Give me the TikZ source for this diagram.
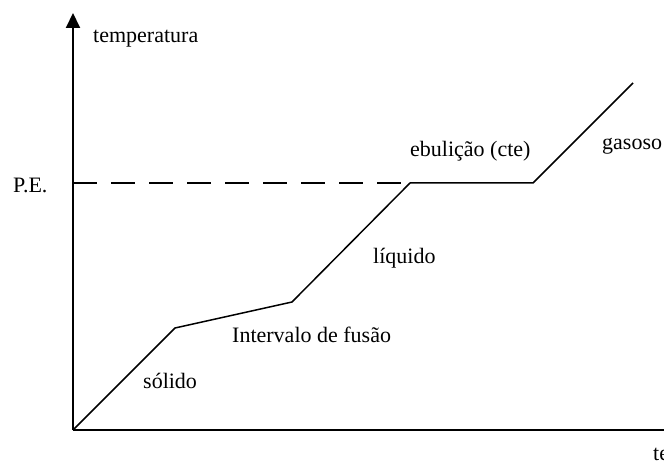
\documentclass[tikz,border=0pt]{standalone}
\usepackage{fontspec}
\setmainfont{Liberation Serif}
\usetikzlibrary{arrows.meta, positioning}
\tikzset{
x=1pt, y=-1pt, % one unit is one pixel of the reference, y runs down
axis/.style={line width=2pt},
curve/.style={line width=1.5pt},
txt/.style={font=\fontsize{22}{26}\selectfont, inner sep=0pt, anchor=base west},
}

\begin{document}
\begin{tikzpicture}
        \useasboundingbox (0,0) rectangle (664,465);

        \coordinate (o) at (73,430);
        \coordinate (ytop) at (73,13);
        \coordinate (xend) at (670,430);
        \coordinate (pe) at (73,183);
        \coordinate (a) at (175,328);
        \coordinate (b) at (292,302);
        \coordinate (c) at (410,183);
        \coordinate (d) at (533,183);
        \coordinate (e) at (633,83);

        \draw[axis, -{Triangle[width=14pt,length=15pt]}] (o) -- (ytop);
        \draw[axis] (o) -- (xend);
        \draw[curve, dash pattern=on 24pt off 14pt] (pe) -- (c);
        \draw[curve, line join=round] (o) -- (a) -- (b) -- (c) -- (d) -- (e);

        \node[txt] (temp) at (93,43) {temperatura};
        \node[txt] (pelabel) at (13,193) {P.E.};
        \node[txt] (ebul) at (410,157) {ebulição (cte)};
        \node[txt] (gas) at (602,150) {gasoso};
        \node[txt] (liq) at (373,263) {líquido};
        \node[txt] (fus) at (232,342) {Intervalo de fusão};
        \node[txt] (sol) at (143,388) {sólido};
        \node[txt] (tempo) at (653,460) {tempo};
      \end{tikzpicture}
\end{document}
